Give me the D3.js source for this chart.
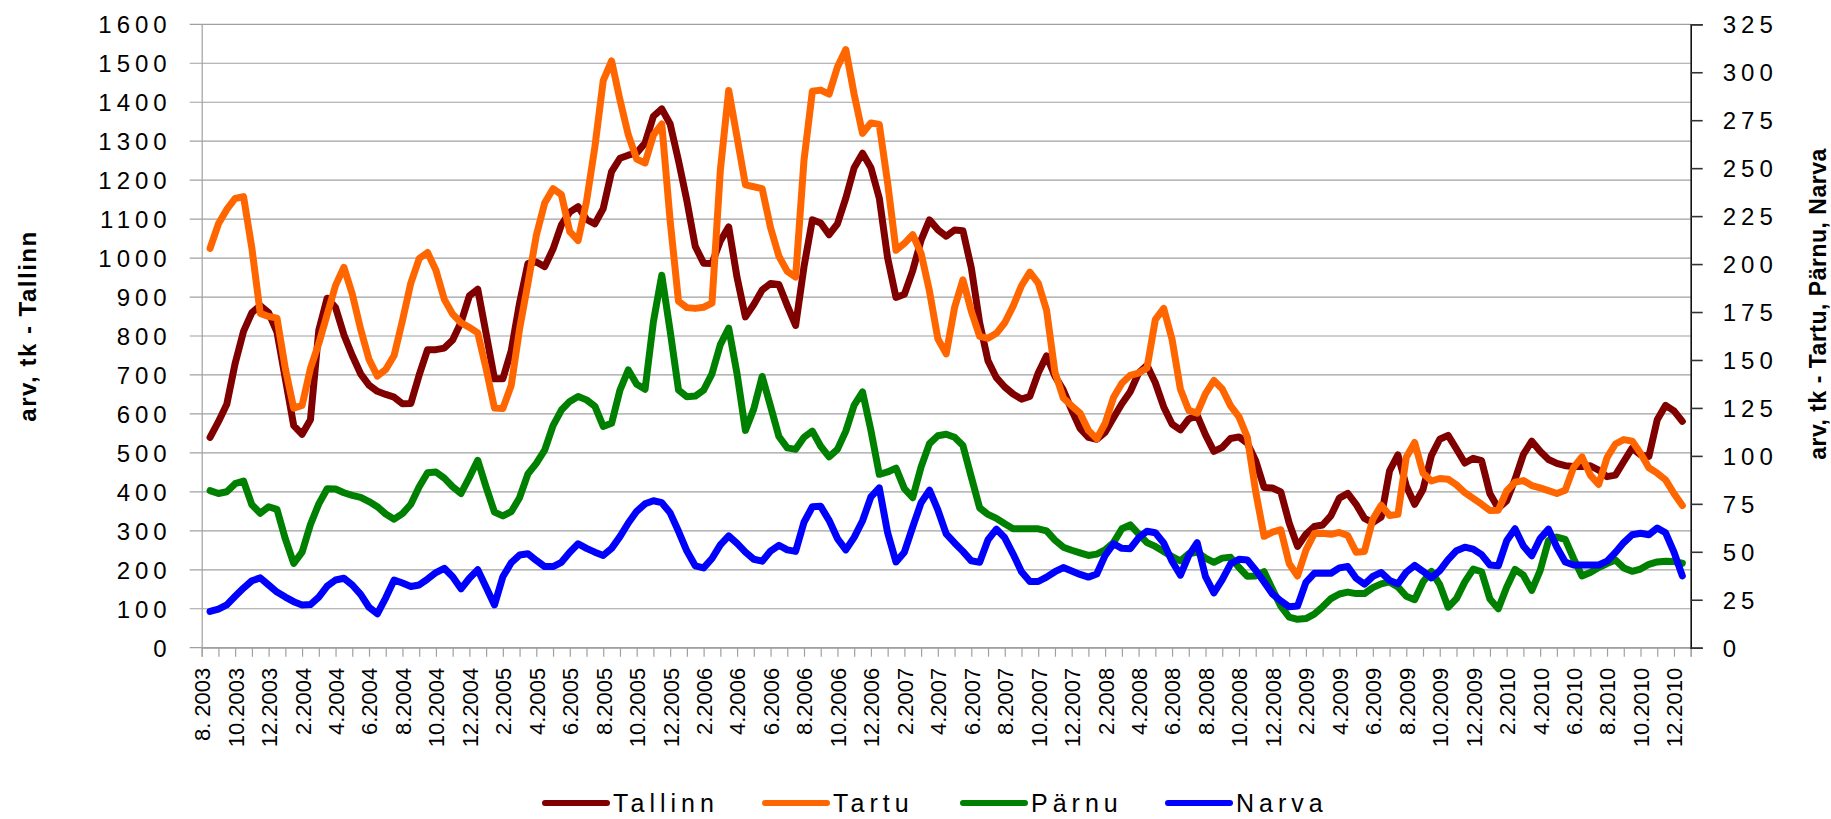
<!DOCTYPE html>
<html><head><meta charset="utf-8">
<script src="https://cdn.jsdelivr.net/npm/d3@7/dist/d3.min.js"></script>
<style>
body{margin:0;background:#fff}
svg{display:block}
text{font-family:"Liberation Sans",Arial,sans-serif;fill:#000}
</style>
</head><body>
<svg id="chart" width="1831" height="819"></svg>
<script>
// ---- data: half-month samples, first at mid-August 2003, last at mid-December 2010 ----
const monthLabels = ["8. 2003","10.2003","12.2003","2.2004","4.2004","6.2004","8.2004","10.2004","12.2004",
  "2.2005","4.2005","6.2005","8.2005","10.2005","12.2005","2.2006","4.2006","6.2006","8.2006","10.2006","12.2006",
  "2.2007","4.2007","6.2007","8.2007","10.2007","12.2007","2.2008","4.2008","6.2008","8.2008","10.2008","12.2008",
  "2.2009","4.2009","6.2009","8.2009","10.2009","12.2009","2.2010","4.2010","6.2010","8.2010","10.2010","12.2010"];
const leftTicks = [0,100,200,300,400,500,600,700,800,900,1000,1100,1200,1300,1400,1500,1600];
const rightTicks = [0,25,50,75,100,125,150,175,200,225,250,275,300,325];
const seriesNames = ["Tallinn","Tartu","Pärnu","Narva"];
const seriesColors = ["#800000","#FF6600","#008000","#0000FF"];

// Tallinn (left axis)
const tallinn = [540,580,625,730,812,860,878,860,810,690,
 570,548,585,815,897,873,803,750,703,674,
 658,650,643,626,627,700,765,765,769,790,
 835,903,920,806,690,690,762,885,986,990,
 978,1023,1085,1118,1132,1099,1088,1127,1222,1256,
 1264,1270,1295,1364,1383,1344,1250,1147,1030,987,
 986,1044,1080,950,849,881,918,935,932,878,
 827,978,1098,1090,1060,1088,1154,1232,1269,1232,
 1154,1000,899,907,968,1046,1098,1073,1056,1072,
 1070,975,834,736,693,669,651,638,645,705,
 749,697,661,610,563,540,535,553,590,626,
 657,705,725,680,618,574,559,587,596,546,
 504,514,537,541,525,480,411,410,400,320,
 260,291,311,315,339,384,396,368,332,321,
 335,454,495,415,368,406,493,535,545,510,
 474,486,480,395,358,377,432,496,530,504,
 483,473,467,465,465,467,456,439,443,478,
 512,495,491,585,622,608,581];
// Tartu (right axis)
const tartu = [208.2,221.0,228.5,234.2,235.2,208.2,174.3,172.7,171.8,145.4,
 124.9,126.3,145.6,158.6,173.7,188.9,198.3,184.4,166.0,150.3,
 141.6,145.0,152.3,170.6,190.1,202.9,206.0,196.8,181.6,173.9,
 169.4,167.0,164.1,145.4,124.9,124.7,136.7,166.2,189.9,214.9,
 231.8,239.3,236.2,216.9,212.3,232.6,261.0,295.6,305.9,285.6,
 267.3,254.7,252.7,267.3,273.0,222.6,180.6,177.3,176.9,177.5,
 179.6,248.8,290.5,266.1,241.3,240.3,239.3,219.0,204.1,196.2,
 193.2,254.1,290.1,290.7,288.6,302.7,311.8,288.4,268.1,273.6,
 272.8,242.3,207.2,210.8,215.3,205.6,185.9,161.1,153.2,177.3,
 191.8,175.5,162.3,161.3,163.9,169.4,178.1,188.7,195.8,190.1,
 175.9,143.6,130.2,126.1,122.3,113.3,108.9,117.0,130.4,137.9,
 142.0,143.2,145.8,171.0,176.9,160.7,134.7,123.7,122.3,132.4,
 139.3,134.9,126.1,120.3,109.7,81.3,58.1,60.3,61.5,43.9,
 37.4,50.8,59.5,59.7,59.1,60.1,58.5,49.8,50.2,67.0,
 74.3,68.9,69.5,99.3,107.0,91.0,86.9,88.2,87.8,84.9,
 80.8,77.8,74.8,71.5,71.7,81.7,86.3,87.1,84.5,83.3,
 81.9,80.4,82.1,94.0,99.5,90.0,85.1,99.1,106.2,108.5,
 107.7,101.4,93.8,91.0,87.5,80.4,74.1];
// Pärnu (right axis)
const parnu = [81.9,80.4,81.3,85.5,86.9,74.5,70.1,73.5,72.1,56.7,
 43.9,49.8,64.2,75.0,82.9,82.7,80.8,79.4,78.4,76.2,
 73.5,69.7,67.0,69.9,74.8,83.9,91.2,91.6,88.4,83.9,
 80.4,88.8,97.7,83.7,70.7,68.7,70.9,78.2,90.6,96.1,
 103.0,115.8,123.9,128.4,131.0,129.2,125.9,115.4,117.0,134.3,
 144.8,137.3,134.7,170.0,194.2,165.1,134.3,130.8,131.2,134.3,
 142.8,158.0,166.6,142.8,113.3,124.5,141.4,125.9,110.1,104.2,
 103.4,109.7,112.9,105.0,99.5,103.4,112.9,126.5,133.3,113.3,
 90.4,91.6,93.6,82.9,78.2,94.3,106.4,110.5,111.3,109.7,
 105.4,89.0,72.9,69.5,67.4,64.6,62.0,62.0,62.0,62.0,
 60.9,56.1,52.4,50.8,49.4,48.1,48.8,51.0,54.8,62.0,
 64.0,59.3,54.8,52.8,50.2,47.5,45.3,49.0,49.8,46.7,
 44.5,46.7,47.1,41.8,37.2,37.4,39.6,30.5,21.7,16.0,
 14.8,15.2,17.5,21.3,25.6,28.0,29.0,28.2,28.2,31.3,
 33.3,34.3,31.7,26.8,25.0,34.3,39.8,32.9,21.1,25.6,
 34.3,41.0,39.6,25.4,20.3,31.5,40.8,37.8,29.9,40.2,
 55.9,57.7,56.5,46.5,37.4,39.2,41.8,43.9,45.7,41.6,
 39.8,41.0,43.5,44.7,45.1,44.9,44.1];
// Narva (right axis)
const narva = [18.9,20.1,22.3,26.8,31.1,34.9,36.4,32.7,29.0,26.4,
 24.0,22.3,22.5,26.4,32.1,35.3,36.2,32.7,27.8,21.1,
 17.7,26.0,35.3,33.7,31.9,32.7,35.8,39.2,41.4,37.0,
 30.7,36.2,40.6,31.5,22.3,37.0,44.3,48.3,49.0,45.5,
 42.3,42.3,44.5,49.8,54.2,51.8,49.8,48.1,51.8,57.9,
 65.0,71.1,75.0,76.6,75.6,70.3,60.7,50.4,42.7,41.6,
 46.5,53.6,58.3,54.4,49.8,46.1,45.1,50.4,53.4,51.0,
 50.2,65.4,73.5,73.7,66.4,56.9,51.0,57.5,66.2,78.6,
 83.3,59.9,44.7,49.8,63.0,75.6,82.1,71.9,59.3,54.6,
 50.2,45.3,44.5,56.3,61.8,57.3,48.8,39.6,34.5,34.5,
 36.8,39.6,41.8,40.0,38.2,36.8,38.4,48.1,54.2,51.8,
 51.6,57.3,60.7,59.9,54.6,45.1,37.8,48.1,54.8,37.0,
 28.6,35.5,43.7,46.1,45.7,40.4,34.3,28.0,24.4,21.3,
 21.7,34.1,38.8,38.8,38.8,41.6,42.3,36.2,33.1,37.2,
 39.2,35.1,33.3,39.4,42.9,39.8,36.4,40.2,45.9,50.6,
 52.4,51.4,48.5,43.1,42.7,55.7,62.0,53.0,47.9,56.9,
 61.8,52.4,44.7,43.1,43.1,43.1,43.1,45.1,49.6,54.8,
 58.9,59.7,58.9,62.4,59.9,49.8,37.4];

// ---- layout ----
const L = 201.7, R = 1690.7, T = 24.3, B = 647.7;
const svg = d3.select("#chart");

// month index scale: 0 = start of Aug 2003, 89 = start of Jan 2011
const x = d3.scaleLinear().domain([0, 89]).range([L, R]);
const yL = d3.scaleLinear().domain([0, 1600]).range([B, T]);
const yR = d3.scaleLinear().domain([0, 325]).range([B, T]);
const sampleMonth = i => 0.5 + i * 0.5;

// gridlines
svg.append("g").selectAll("line").data(leftTicks).join("line")
  .attr("x1", L - 12).attr("x2", R)
  .attr("y1", d => yL(d)).attr("y2", d => yL(d))
  .attr("stroke", "#a0a0a0").attr("stroke-width", 1.2);

// left axis
const gL = svg.append("g").attr("transform", `translate(${L},0)`)
  .call(d3.axisLeft(yL).tickValues(leftTicks).tickSize(0).tickPadding(30).tickFormat(d3.format("d")));
gL.select(".domain").attr("stroke", "#a0a0a0").attr("stroke-width", 1.2);
gL.selectAll("text").attr("font-size", 24).attr("letter-spacing", "5px").attr("dy", "0.36em")
  .style("font-family", '"Liberation Sans", Arial, sans-serif');

// bottom axis (monthly ticks)
const gB = svg.append("g").attr("transform", `translate(0,${B})`)
  .call(d3.axisBottom(x).tickValues(d3.range(0, 90)).tickSize(9).tickFormat(""));
gB.select(".domain").attr("stroke", "#a0a0a0").attr("stroke-width", 1.2);
gB.selectAll(".tick line").attr("stroke", "#a0a0a0").attr("stroke-width", 1.2);

// bottom labels every 2 months
const gBL = svg.append("g").attr("transform", `translate(0,${B})`)
  .call(d3.axisBottom(x).tickValues(monthLabels.map((d, i) => i * 2)).tickSize(0)
    .tickFormat((d) => monthLabels[d / 2]));
gBL.select(".domain").remove();
gBL.selectAll("text")
  .attr("font-size", 22)
  .attr("text-anchor", "end")
  .attr("transform", "rotate(-90)")
  .attr("x", -20).attr("y", 0).attr("dy", "0.36em")
  .style("font-family", '"Liberation Sans", Arial, sans-serif');

// right axis
const gR = svg.append("g").attr("transform", `translate(${R},0)`)
  .call(d3.axisRight(yR).tickValues(rightTicks).tickSize(12).tickPadding(20));
gR.select(".domain").attr("stroke", "#111").attr("stroke-width", 1.6);
gR.selectAll(".tick line").attr("stroke", "#333").attr("stroke-width", 1.6);
gR.selectAll("text").attr("font-size", 24).attr("letter-spacing", "5px").attr("dy", "0.36em")
  .style("font-family", '"Liberation Sans", Arial, sans-serif');

// axis titles
svg.append("text").attr("transform", "translate(36,326) rotate(-90)")
  .attr("text-anchor", "middle").attr("font-size", 24).attr("font-weight", "bold")
  .attr("letter-spacing", "1.5px").text("arv, tk - Tallinn");
svg.append("text").attr("transform", "translate(1826,304) rotate(-90)")
  .attr("text-anchor", "middle").attr("font-size", 23).attr("font-weight", "bold")
  .attr("letter-spacing", "0.5px").text("arv, tk - Tartu, Pärnu, Narva");

// series
const series = [
  {values: tallinn, y: yL},
  {values: tartu, y: yR},
  {values: parnu, y: yR},
  {values: narva, y: yR}
];
series.forEach((s, k) => {
  const line = d3.line().x((d, i) => x(sampleMonth(i))).y(d => s.y(d));
  svg.append("path").datum(s.values)
    .attr("d", line).attr("fill", "none")
    .attr("stroke", seriesColors[k]).attr("stroke-width", 7)
    .attr("stroke-linejoin", "round").attr("stroke-linecap", "round");
});

// legend
const legendX = [545, 765, 963, 1168];
const leg = svg.append("g");
seriesNames.forEach((name, k) => {
  const g = leg.append("g").attr("transform", `translate(${legendX[k]},803)`);
  g.append("line").attr("x1", 0).attr("x2", 62).attr("y1", 0).attr("y2", 0)
    .attr("stroke", seriesColors[k]).attr("stroke-width", 6).attr("stroke-linecap", "round");
  g.append("text").attr("x", 68).attr("y", 0).attr("dy", "0.36em")
    .attr("font-size", 25).attr("letter-spacing", "5px").text(name);
});
</script>
</body></html>
